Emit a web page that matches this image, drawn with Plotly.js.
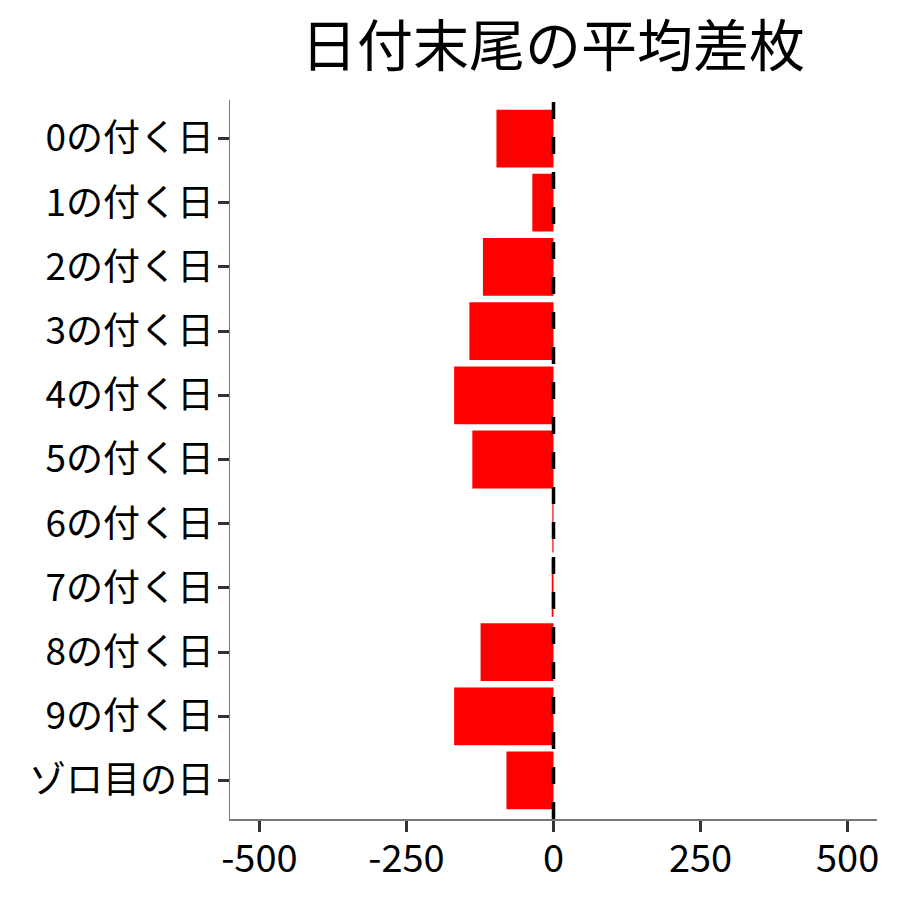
<!DOCTYPE html>
<html>
<head>
<meta charset="utf-8">
<script src="https://cdn.plot.ly/plotly-3.0.1.min.js"></script>
<style>
  html, body { margin: 0; padding: 0; background: #fff; }
  #chart { width: 900px; height: 900px; }
</style>
</head>
<body>
<div id="chart"></div>
<script>
// 日付末尾ごとの平均差枚
const categories = ['0の付く日', '1の付く日', '2の付く日', '3の付く日', '4の付く日',
  '5の付く日', '6の付く日', '7の付く日', '8の付く日', '9の付く日', 'ゾロ目の日'];
const avgDiff = [-97, -36, -120, -143, -169, -138, -2, -3, -124, -169, -80];
const xTicks = [-500, -250, 0, 250, 500];

const FONT = '"Noto Sans CJK JP", "Noto Sans", sans-serif';

const data = [{
  type: 'bar',
  orientation: 'h',
  y: categories,
  x: avgDiff,
  marker: { color: '#ff0000', line: { width: 0 } },
  hoverinfo: 'x+y'
}];

const layout = {
  width: 900, height: 900,
  paper_bgcolor: '#ffffff', plot_bgcolor: '#ffffff',
  font: { family: FONT, size: 37, color: '#000000' },
  title: { text: '日付末尾の平均差枚', font: { family: FONT, size: 56, color: '#000000' },
    x: 553 / 900, xanchor: 'center', y: 0.948, yanchor: 'middle' },
  margin: { l: 230, r: 23, t: 100, b: 81 },
  bargap: 0.1,
  showlegend: false,
  xaxis: {
    range: [-550, 550], tickvals: xTicks, ticktext: xTicks.map(String),
    showgrid: false, zeroline: false,
    showline: true, linecolor: '#777777', linewidth: 1.5,
    ticks: 'outside', ticklen: 11, tickwidth: 3, tickcolor: '#333333',
    ticklabelstandoff: -5,
    tickfont: { family: FONT, size: 38, color: '#000000' }
  },
  yaxis: {
    type: 'category', autorange: false, range: [10.6, -0.6],
    showgrid: false, zeroline: false,
    showline: true, linecolor: '#777777', linewidth: 1.5,
    ticks: 'outside', ticklen: 11, tickwidth: 3, tickcolor: '#333333',
    ticklabelstandoff: -4,
    tickfont: { family: FONT, size: 37, color: '#000000' }
  },
  shapes: [{
    type: 'line', xref: 'x', yref: 'paper', x0: 0, x1: 0, y0: 0, y1: 1,
    line: { color: '#000000', width: 3.5, dash: '17px,18px' }
  }]
};

Plotly.newPlot('chart', data, layout, { displayModeBar: false, staticPlot: true });
</script>
</body>
</html>
